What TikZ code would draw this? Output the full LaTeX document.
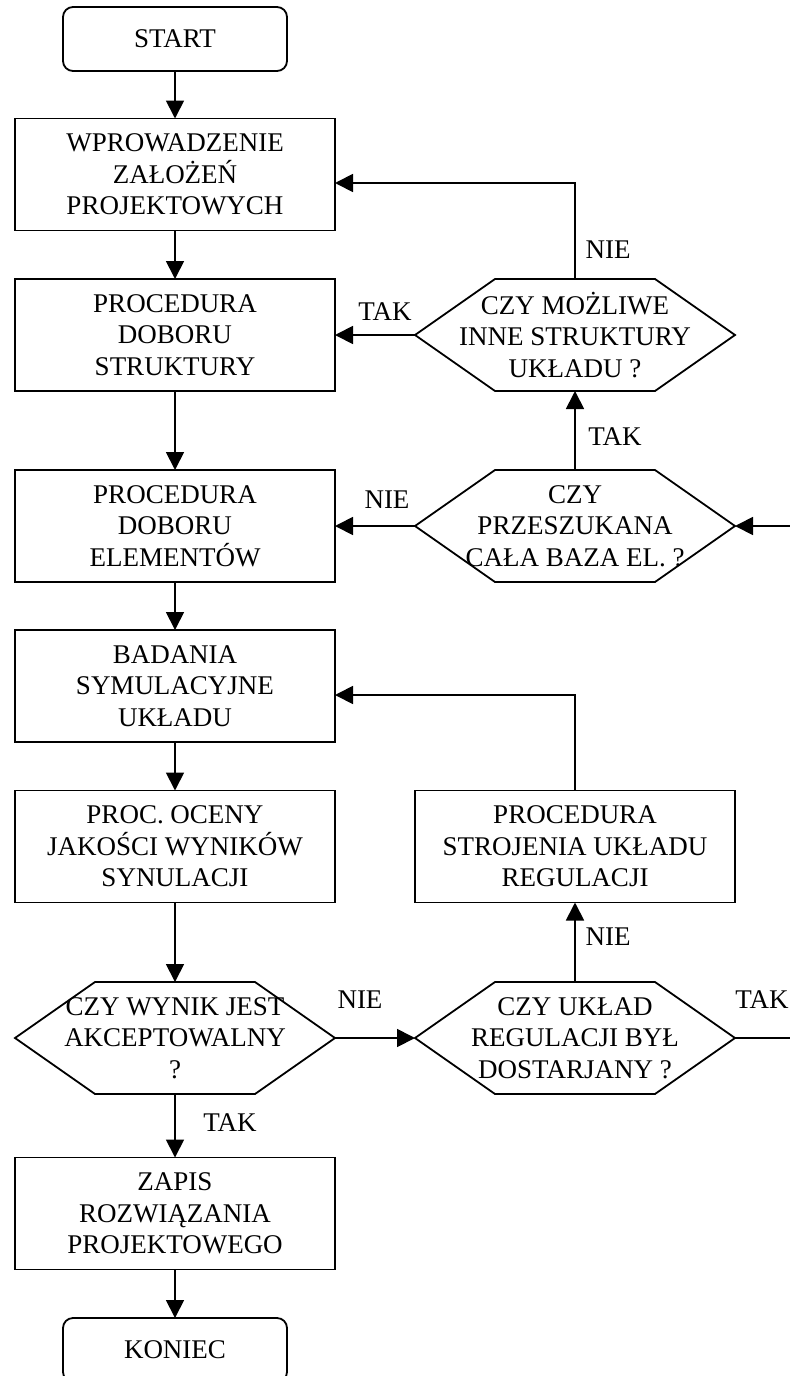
\documentclass[tikz,border=0pt]{standalone}
\usepackage{fontspec}
\setmainfont{Liberation Serif}
\usepackage{tikz}
\usetikzlibrary{arrows.meta, calc}

\newcommand{\hexframe}[1]{%
  \draw[line width=0.9pt] (#1.west) -- ([xshift=40pt]#1.north west) -- ([xshift=-40pt]#1.north east)
    -- (#1.east) -- ([xshift=-40pt]#1.south east) -- ([xshift=40pt]#1.south west) -- cycle;}

\begin{document}
\begin{tikzpicture}[x=0.5pt, y=-0.5pt,
                every node/.style={font=\fontsize{13.5pt}{15.75pt}\selectfont, align=center, inner sep=0pt, outer sep=0pt},
                term/.style={rectangle, rounded corners=5pt, draw, line width=0.9pt, minimum width=112pt, minimum height=32pt},
                proc/.style={rectangle, draw, line width=0.9pt, minimum width=160pt, minimum height=56pt},
                quest/.style={rectangle, minimum width=160pt, minimum height=56pt},
                arr/.style={-{Triangle[length=9pt, width=9pt]}, line width=0.9pt},
                lin/.style={line width=0.9pt}]
                \useasboundingbox (0,0) rectangle (790,1376);
                \clip (0,0) rectangle (790,1376);

                \node[term] (start) at (175,39) {START};
                \node[proc] (wpr) at (175,174.5) {WPROWADZENIE\\ZAŁOŻEŃ\\PROJEKTOWYCH};
                \node[proc] (dobs) at (175,335) {PROCEDURA\\DOBORU\\STRUKTURY};
                \node[proc] (dobe) at (175,526) {PROCEDURA\\DOBORU\\ELEMENTÓW};
                \node[proc] (bad) at (175,686) {BADANIA\\SYMULACYJNE\\UKŁADU};
                \node[proc] (ocena) at (175,846.5) {PROC. OCENY\\JAKOŚCI WYNIKÓW\\SYNULACJI};
                \node[quest] (qwyn) at (175,1038) {CZY WYNIK JEST\\AKCEPTOWALNY\\?};
                \node[proc] (zapis) at (175,1213.5) {ZAPIS\\ROZWIĄZANIA\\PROJEKTOWEGO};
                \node[term] (koniec) at (175,1350) {KONIEC};

                \node[quest] (qstr) at (575,335) {CZY MOŻLIWE\\INNE STRUKTURY\\UKŁADU ?};
                \node[quest] (qbaz) at (575,526) {CZY\\PRZESZUKANA\\CAŁA BAZA EL. ?};
                \node[proc] (stroj) at (575,846.5) {PROCEDURA\\STROJENIA UKŁADU\\REGULACJI};
                \node[quest] (qukl) at (575,1038) {CZY UKŁAD\\REGULACJI BYŁ\\DOSTARJANY ?};

                \hexframe{qwyn}
                \hexframe{qstr}
                \hexframe{qbaz}
                \hexframe{qukl}

                \coordinate (rt) at (800,1038);
                \coordinate (rb) at (800,526);

                \draw[arr] (start) -- (wpr);
                \draw[arr] (wpr) -- (dobs);
                \draw[arr] (dobs) -- (dobe);
                \draw[arr] (dobe) -- (bad);
                \draw[arr] (bad) -- (ocena);
                \draw[arr] (ocena) -- (qwyn);
                \draw[arr] (qwyn) -- (zapis);
                \draw[arr] (zapis) -- (koniec);

                \draw[arr] (qstr.north) |- ([yshift=-4.25pt]wpr.east);
                \draw[arr] (qstr.west) -- (dobs.east);
                \draw[arr] (qbaz.north) -- (qstr.south);
                \draw[arr] (qbaz.west) -- (dobe.east);
                \draw[arr] (stroj.north) |- ([yshift=-4.5pt]bad.east);
                \draw[arr] (qukl.north) -- (stroj.south);
                \draw[arr] (qwyn.east) -- (qukl.west);
                \draw[arr] (qukl.east) -- (rt) -- (rb) -- (qbaz.east);

                \node (l1) at (608,250) {NIE};
                \node (l2) at (385,312) {TAK};
                \node (l3) at (615,437) {TAK};
                \node (l4) at (387,500) {NIE};
                \node (l5) at (608,937) {NIE};
                \node (l6) at (360,1000) {NIE};
                \node (l7) at (762,1000) {TAK};
                \node (l8) at (230,1123) {TAK};
            \end{tikzpicture}
\end{document}
